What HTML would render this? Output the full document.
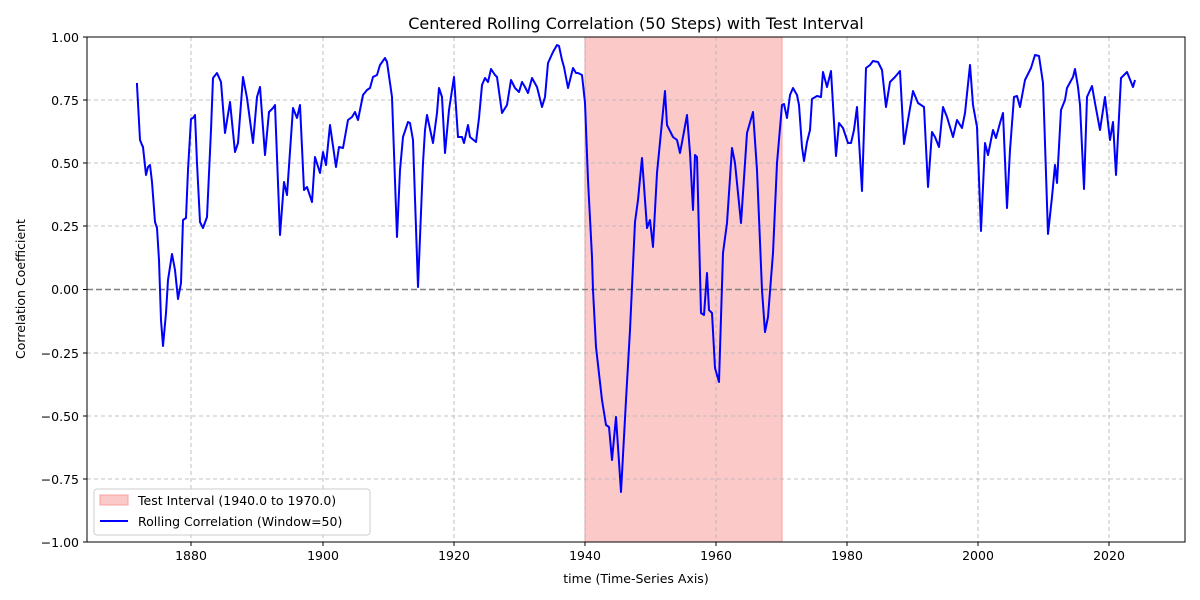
<!DOCTYPE html>
<html><head><meta charset="utf-8"><style>body{margin:0;background:#fff}svg{display:block;font-family:"DejaVu Sans","Liberation Sans",sans-serif}</style></head><body>
<svg width="1200" height="600" xmlns="http://www.w3.org/2000/svg">
<rect x="585" y="37" width="197" height="505" fill="#fcc9c9" stroke="#f8a0a0" stroke-width="1"/>
<g stroke="#b0b0b0" stroke-dasharray="4,3" stroke-width="0.8">
<line x1="191" y1="37" x2="191" y2="542"/><line x1="323" y1="37" x2="323" y2="542"/><line x1="454" y1="37" x2="454" y2="542"/><line x1="585" y1="37" x2="585" y2="542"/><line x1="716" y1="37" x2="716" y2="542"/><line x1="847" y1="37" x2="847" y2="542"/><line x1="978" y1="37" x2="978" y2="542"/><line x1="1109" y1="37" x2="1109" y2="542"/>
<line x1="87" y1="100" x2="1185" y2="100"/><line x1="87" y1="163" x2="1185" y2="163"/><line x1="87" y1="226" x2="1185" y2="226"/><line x1="87" y1="353" x2="1185" y2="353"/><line x1="87" y1="416" x2="1185" y2="416"/><line x1="87" y1="479" x2="1185" y2="479"/>
</g>
<line x1="87" y1="289.5" x2="1185" y2="289.5" stroke="#808080" stroke-width="1.5" stroke-dasharray="6,3"/>
<polyline fill="none" stroke="#0000ff" stroke-width="2" stroke-linejoin="round" points="137,83 137,85 140,140 142,145 143,147 146,175 148,167 150,165 152,182 155,222 157,228 159,260 161,320 163,346 166,313 168,280 172,254 175,270 178,299 181,283 183,220 186,218 188,170 191,119 193,118 195,115 197,163 200,222 203,228 207,217 211,130 213,78 217,73 221,82 225,133 230,102 235,152 238,143 243,77 247,98 253,143 257,97 260,87 265,155 269,112 273,108 275,105 280,235 284,182 287,195 293,108 297,118 300,105 304,190 307,187 312,202 315,157 320,173 323,152 326,165 330,125 336,167 339,147 343,148 348,120 352,117 355,112 358,120 363,95 367,90 370,88 373,77 377,75 380,65 385,58 387,62 392,97 397,237 400,170 403,137 408,122 410,123 413,140 418,287 423,163 425,130 427,115 433,143 437,113 439,88 442,97 445,153 449,110 454,77 458,137 462,137 464,143 468,125 470,137 476,142 479,118 482,85 485,78 488,82 491,69 495,75 497,77 502,113 507,105 511,80 515,88 519,92 522,82 525,87 528,93 532,78 537,87 542,107 545,97 548,63 553,52 557,45 559,46 562,60 564,67 568,88 573,68 576,73 578,73 582,75 585,103 588,180 592,257 593,290 596,347 602,400 606,425 609,427 612,460 616,417 621,492 626,400 630,330 635,222 638,200 642,158 647,228 650,220 653,247 657,173 665,91 667,125 673,137 677,140 680,153 683,137 687,115 690,153 693,210 695,155 697,157 701,313 704,315 707,273 709,310 712,313 715,368 719,382 723,253 727,223 732,148 735,163 741,223 747,133 753,112 757,170 762,290 765,332 768,317 773,253 777,163 782,105 784,104 787,118 790,95 793,88 797,95 799,105 802,147 804,161 807,142 810,130 812,99 817,96 821,97 823,72 827,87 831,71 836,156 839,123 843,128 848,143 851,143 854,130 857,107 862,191 866,68 870,65 873,61 878,62 882,70 886,107 890,82 895,77 900,71 904,144 908,120 913,91 918,103 924,107 928,187 932,132 935,137 939,147 943,107 947,117 953,137 957,120 962,128 965,113 970,65 973,105 977,127 981,231 985,143 988,155 993,130 996,138 1000,123 1003,113 1007,208 1010,150 1014,97 1017,96 1020,107 1025,80 1031,68 1035,55 1039,56 1043,83 1048,234 1052,197 1055,165 1057,183 1061,110 1065,100 1067,88 1073,77 1075,69 1078,87 1080,105 1084,189 1087,97 1092,86 1095,103 1100,130 1105,97 1110,140 1113,122 1116,175 1121,78 1127,72 1133,87 1135,80"/>
<rect x="87" y="37" width="1098" height="505" fill="none" stroke="#000" stroke-width="1"/>
<g stroke="#000"><line x1="191" y1="542" x2="191" y2="546"/><line x1="323" y1="542" x2="323" y2="546"/><line x1="454" y1="542" x2="454" y2="546"/><line x1="585" y1="542" x2="585" y2="546"/><line x1="716" y1="542" x2="716" y2="546"/><line x1="847" y1="542" x2="847" y2="546"/><line x1="978" y1="542" x2="978" y2="546"/><line x1="1109" y1="542" x2="1109" y2="546"/>
<line x1="83" y1="37" x2="87" y2="37"/><line x1="83" y1="100" x2="87" y2="100"/><line x1="83" y1="163" x2="87" y2="163"/><line x1="83" y1="226" x2="87" y2="226"/><line x1="83" y1="289.5" x2="87" y2="289.5"/><line x1="83" y1="353" x2="87" y2="353"/><line x1="83" y1="416" x2="87" y2="416"/><line x1="83" y1="479" x2="87" y2="479"/><line x1="83" y1="542" x2="87" y2="542"/></g>
<g font-size="12.5" text-anchor="middle" fill="#000"><text x="191" y="560">1880</text><text x="323" y="560">1900</text><text x="454" y="560">1920</text><text x="585" y="560">1940</text><text x="716" y="560">1960</text><text x="847" y="560">1980</text><text x="978" y="560">2000</text><text x="1109" y="560">2020</text></g>
<g font-size="12.5" text-anchor="end" fill="#000"><text x="79" y="42">1.00</text><text x="79" y="105">0.75</text><text x="79" y="168">0.50</text><text x="79" y="231">0.25</text><text x="79" y="294">0.00</text><text x="79" y="358">−0.25</text><text x="79" y="421">−0.50</text><text x="79" y="484">−0.75</text><text x="79" y="547">−1.00</text></g>
<text x="636" y="29" font-size="16" text-anchor="middle">Centered Rolling Correlation (50 Steps) with Test Interval</text>
<text x="636" y="583" font-size="12.5" text-anchor="middle">time (Time-Series Axis)</text>
<text transform="translate(25,289) rotate(-90)" font-size="12.5" text-anchor="middle">Correlation Coefficient</text>
<rect x="94" y="489" width="276" height="46" rx="3" fill="#fff" fill-opacity="0.8" stroke="#ccc"/>
<rect x="100" y="495" width="28" height="10" fill="#fcc9c9" stroke="#f8a0a0"/>
<text x="138" y="505" font-size="12.5">Test Interval (1940.0 to 1970.0)</text>
<line x1="100" y1="521" x2="128" y2="521" stroke="#0000ff" stroke-width="2"/>
<text x="138" y="526" font-size="12.5">Rolling Correlation (Window=50)</text>
</svg>
</body></html>
